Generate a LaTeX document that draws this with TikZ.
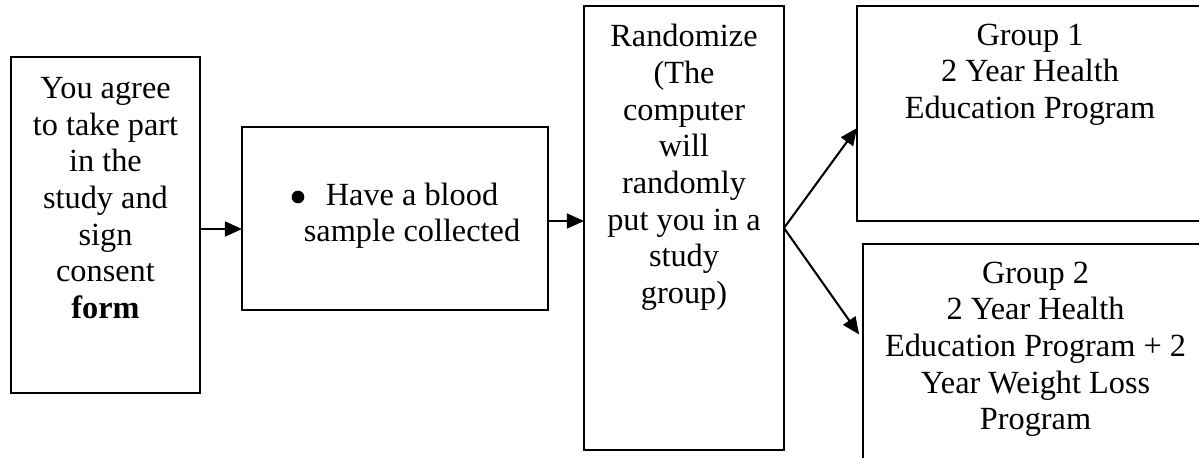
\documentclass[tikz,border=0pt]{standalone}
\usepackage{fontspec}
\setmainfont{Liberation Serif}
\usetikzlibrary{arrows.meta}
\def\u{0.36364pt}
\newcommand{\lines}[1]{\setlength{\tabcolsep}{0pt}\begin{tabular}[t]{c}#1\end{tabular}}
\begin{document}
\begin{tikzpicture}[x=0.36364pt,y=-0.36364pt,
  box/.style={draw,line width=0.75pt,inner sep=0pt,outer sep=0pt},
  txt/.style={inner sep=0pt,anchor=base,font=\fontsize{11.75}{13.35}\selectfont},
  arr/.style={line width=0.75pt,-{Triangle[length=6.2pt,width=5.4pt]}}]
\useasboundingbox (0,0) rectangle (1199,457);
\clip (0,0) rectangle (1199,457);
% boxes
\node[box,minimum width=189*\u,minimum height=336*\u] (A) at (105.5,225) {};
\node[box,minimum width=306*\u,minimum height=183*\u] (B) at (395,218.5) {};
\node[box,minimum width=200*\u,minimum height=444*\u] (C) at (684,228) {};
\node[box,minimum width=346*\u,minimum height=215*\u] (D) at (1030,113.5) {};
\node[box,minimum width=345*\u,minimum height=226*\u] (E) at (1035.5,357) {};
% texts
\node[txt] (tA) at (105.5,98.3) {\lines{You agree\\to take part\\in the\\study and\\sign\\consent\\\textbf{form}}};
\node[txt] (tB) at (412,205) {\lines{Have a blood\\sample collected}};
\node[circle,fill,inner sep=0pt,minimum size=4.6pt] (bB) at (298,197) {};
\node[txt] (tC) at (684,46.7) {\lines{Randomize\\(The\\computer\\will\\randomly\\put you in a\\study\\group)}};
\node[txt] (tD) at (1030,45) {\lines{Group 1\\2 Year Health\\Education Program}};
\node[txt] (tE) at (1035.5,283) {\lines{Group 2\\2 Year Health\\Education Program + 2\\Year Weight Loss\\Program}};
% connectors
\coordinate (yAB) at (0,229);
\coordinate (yBC) at (0,221);
\coordinate (yCD) at (0,128);
\coordinate (yCE) at (0,340);
\draw[arr] (A.east |- yAB) -- (B.west |- yAB);
\draw[arr] (B.east |- yBC) -- (C.west |- yBC);
\draw[arr] (C.east) -- (D.west |- yCD);
\draw[arr,shorten >=2.5pt] (C.east) -- (E.west |- yCE);
\end{tikzpicture}
\end{document}
